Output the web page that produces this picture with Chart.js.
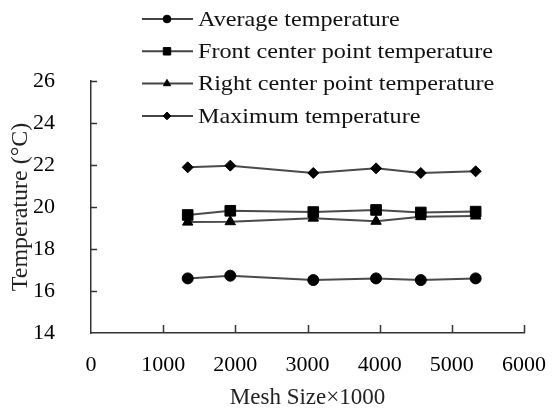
<!DOCTYPE html>
<html>
<head>
<meta charset="utf-8">
<script src="https://cdn.jsdelivr.net/npm/chart.js@4/dist/chart.umd.min.js"></script>
<style>
  html, body { margin: 0; padding: 0; background: #fff; }
  #wrap { width: 557px; height: 412px; }
</style>
</head>
<body>
<div id="wrap"><canvas id="chart"></canvas></div>
<script>
// ── data ───────────────────────────────────────────────────────────
const meshSize = [1340, 1930, 3080, 3950, 4570, 5330];
const avgTemp = [16.60, 16.73, 16.52, 16.60, 16.52, 16.60];
const frontTemp = [19.62, 19.82, 19.76, 19.86, 19.74, 19.78];
const rightTemp = [19.28, 19.30, 19.47, 19.32, 19.54, 19.57];
const maxTemp = [21.89, 21.97, 21.62, 21.84, 21.62, 21.70];
const seriesNames = [
  "Average temperature",
  "Front center point temperature",
  "Right center point temperature",
  "Maximum temperature",
];
const xTicks = [0, 1000, 2000, 3000, 4000, 5000, 6000];
const yTicks = [14, 16, 18, 20, 22, 24, 26];

const SERIF = "'Liberation Serif', 'Times New Roman', serif";
const pts = (ys) => meshSize.map((x, i) => ({ x, y: ys[i] }));

const series = [
  [avgTemp, "circle", 5.5],
  [frontTemp, "rect", 7.5],
  [rightTemp, "triangle", 6],
  [maxTemp, "rectRot", 5.5],
];

// ── inner tick marks + legend in the plot corner ──────────────────
function drawInnerTicks(c) {
  const ctx = c.ctx;
  const xs = c.scales.x, ys = c.scales.y, a = c.chartArea;
  ctx.save();
  ctx.strokeStyle = "#333";
  ctx.lineWidth = 1.5;
  for (const v of xTicks.slice(1)) {
    const px = Math.round(xs.getPixelForValue(v)) + 0.5;
    ctx.beginPath(); ctx.moveTo(px, a.bottom); ctx.lineTo(px, a.bottom - 8); ctx.stroke();
  }
  for (const v of yTicks.slice(1)) {
    const py = Math.round(ys.getPixelForValue(v)) + 0.5;
    ctx.beginPath(); ctx.moveTo(a.left, py); ctx.lineTo(a.left + 6, py); ctx.stroke();
  }
  ctx.restore();
}

const cornerLegend = {
  id: "cornerLegend",
  afterDraw(c) {
    drawInnerTicks(c);
    const ctx = c.ctx;
    ctx.save();
    c.data.datasets.forEach((ds, i) => {
      const yy = 19 + i * 32.3;
      ctx.strokeStyle = "#444";
      ctx.lineWidth = 2;
      ctx.beginPath(); ctx.moveTo(142, yy); ctx.lineTo(193, yy); ctx.stroke();
      ctx.fillStyle = "#000"; ctx.strokeStyle = "#000"; ctx.lineWidth = 1;
      Chart.helpers.drawPoint(ctx, { pointStyle: ds.pointStyle, radius: ds.pointRadius * 0.7, rotation: 0, borderWidth: 1 }, 167, yy);
      ctx.save();
      ctx.translate(198, yy);
      ctx.scale(1.1, 1);
      ctx.font = "22px " + SERIF;
      ctx.fillStyle = "#111";
      ctx.textBaseline = "middle";
      ctx.fillText(ds.label, 0, 1);
      ctx.restore();
    });
    ctx.restore();
  },
};

new Chart(document.getElementById("chart"), {
  type: "line",
  data: {
    datasets: series.map(([ys, style, r], i) => ({
      label: seriesNames[i],
      data: pts(ys),
      borderColor: "#4a4a4a",
      borderWidth: 2,
      pointStyle: style,
      pointRadius: r,
      pointBackgroundColor: "#000",
      pointBorderColor: "#000",
      pointBorderWidth: 1,
      tension: 0,
    })),
  },
  options: {
    responsive: true,
    maintainAspectRatio: false,
    animation: false,
    layout: { padding: { top: 81, right: 23, left: 0, bottom: 0 } },
    plugins: { legend: { display: false }, tooltip: { enabled: false } },
    scales: {
      x: {
        type: "linear", min: 0, max: 6000,
        afterBuildTicks: (s) => { s.ticks = xTicks.map((v) => ({ value: v })); },
        afterFit: (s) => { s.height = 79; },
        grid: { display: false },
        border: { display: true, color: "#333", width: 1.5 },
        ticks: { padding: 11, color: "#000", font: { family: SERIF, size: 22 }, maxRotation: 0, callback: (v) => String(v) },
        title: { display: true, text: "Mesh Size\u00d71000", color: "#222", font: { family: SERIF, size: 23 }, padding: { top: 0, bottom: 0 } },
      },
      y: {
        min: 14, max: 26,
        afterBuildTicks: (s) => { s.ticks = yTicks.map((v) => ({ value: v })); },
        afterFit: (s) => { s.width = 91; },
        grid: { display: false },
        border: { display: true, color: "#333", width: 1.5 },
        ticks: { padding: 28, color: "#000", font: { family: SERIF, size: 22 } },
        title: { display: true, text: "Temperature (°C)", color: "#222", font: { family: SERIF, size: 24 }, padding: { top: 6, bottom: 0 } },
      },
    },
  },
  plugins: [cornerLegend],
});
</script>
</body>
</html>
